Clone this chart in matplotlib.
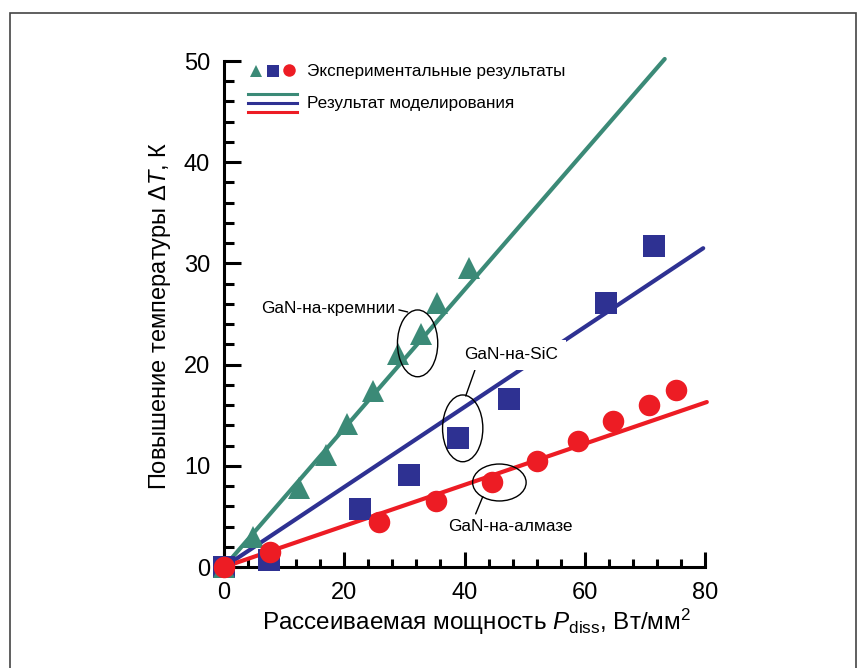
import matplotlib.pyplot as plt
from matplotlib.patches import Ellipse, Rectangle
from matplotlib.ticker import MultipleLocator

plt.rcParams["font.family"] = ["Liberation Sans", "DejaVu Sans"]
plt.rcParams["mathtext.fontset"] = "custom"
plt.rcParams["mathtext.rm"] = "Liberation Sans"
plt.rcParams["mathtext.it"] = "Liberation Sans:italic"

# эксперимент: GaN-на-кремнии (треугольники)
si_x = [0, 4.8, 12.5, 16.9, 20.5, 24.7, 29.0, 32.8, 35.4, 40.7]
si_y = [0, 3.0, 7.8, 11.1, 14.1, 17.4, 21.0, 23.0, 26.1, 29.5]
# GaN-на-SiC (квадраты)
sic_x = [0, 7.5, 22.7, 30.8, 39.0, 47.4, 63.6, 71.6]
sic_y = [0, 0.7, 5.7, 9.1, 12.7, 16.6, 26.1, 31.7]
# GaN-на-алмазе (круги)
dia_x = [0, 7.6, 25.7, 35.2, 44.6, 52.1, 58.9, 64.7, 70.7, 75.1]
dia_y = [0, 1.5, 4.4, 6.5, 8.4, 10.5, 12.5, 14.4, 16.0, 17.5]

# результат моделирования (прямые)
si_model_x, si_model_y = [0, 73.3], [0, 50.2]
sic_model_x, sic_model_y = [0, 79.7], [0, 31.5]
dia_model_x, dia_model_y = [0, 80.3], [0, 16.3]

green = "#3b8a77"
navy = "#2e3192"
red = "#ed1c24"

fig = plt.figure(figsize=(8.6, 6.68), dpi=100)
ax = fig.add_axes([224 / 860, 101 / 668, 481 / 860, 506 / 668])

# рамка вокруг рисунка
fig.patches.append(Rectangle((10 / 860, -0.05), 846 / 860, 1.05 - 13 / 668,
                             transform=fig.transFigure, fill=False,
                             edgecolor="#444444", lw=1.2))

lw = 3.0
ax.plot(si_model_x, si_model_y, color=green, lw=lw, solid_capstyle="round",
        clip_on=False, zorder=2)
ax.plot(sic_model_x, sic_model_y, color=navy, lw=lw, solid_capstyle="round",
        clip_on=False, zorder=2)
ax.plot(dia_model_x, dia_model_y, color=red, lw=lw, solid_capstyle="round",
        clip_on=False, zorder=2)

ax.plot(sic_x, sic_y, "s", color=navy, ms=15.5, mew=0, clip_on=False, zorder=3)
ax.plot(si_x, si_y, "^", color=green, ms=16.5, mew=0, clip_on=False, zorder=4)
ax.plot(dia_x, dia_y, "o", color=red, ms=15.5, mew=0, clip_on=False, zorder=5)

# подписи с эллипсами
ell_kw = dict(fill=False, edgecolor="black", lw=1.0, zorder=6)
ax.add_patch(Ellipse((32.2, 22.1), 6.7, 6.6, **ell_kw))
ax.add_patch(Ellipse((39.7, 13.7), 6.7, 6.6, **ell_kw))
ax.add_patch(Ellipse((45.8, 8.35), 8.9, 3.65, **ell_kw))

fs_ann = 12.4
ax.annotate("GaN-на-кремнии", xy=(30.55, 25.2), xytext=(28.4, 25.5),
            ha="right", va="center", fontsize=fs_ann, zorder=7,
            arrowprops=dict(arrowstyle="-", lw=1.0, relpos=(1, 0.5),
                            shrinkA=1, shrinkB=0))
ax.annotate("GaN-на-SiC", xy=(40.2, 16.9), xytext=(47.8, 20.95),
            ha="center", va="center", fontsize=fs_ann, zorder=7,
            bbox=dict(boxstyle="square,pad=0.45", fc="white", ec="none"),
            arrowprops=dict(arrowstyle="-", lw=1.0, relpos=(0.14, 0),
                            shrinkA=0, shrinkB=0))
ax.annotate("GaN-на-алмазе", xy=(43.05, 6.96), xytext=(47.7, 3.98),
            ha="center", va="center", fontsize=fs_ann, zorder=7,
            arrowprops=dict(arrowstyle="-", lw=1.0, relpos=(0.2, 1),
                            shrinkA=2, shrinkB=0))

# легенда
tr = ax.transAxes
ax.plot([0.0665], [0.981], "^", color=green, ms=9, mew=0, transform=tr)
ax.plot([0.1013], [0.981], "s", color=navy, ms=8.5, mew=0, transform=tr)
ax.plot([0.1359], [0.982], "o", color=red, ms=9, mew=0, transform=tr)
ax.text(0.172, 0.979, "Экспериментальные результаты", transform=tr,
        fontsize=12.3, va="center", ha="left")
for yy, c in zip([0.9348, 0.9176, 0.8998], [green, navy, red]):
    ax.plot([0.0505, 0.1511], [yy, yy], color=c, lw=2.2, transform=tr)
ax.text(0.172, 0.9164, "Результат моделирования", transform=tr,
        fontsize=12.3, va="center", ha="left")

ax.set_xlim(0, 80)
ax.set_ylim(0, 50)
ax.xaxis.set_major_locator(MultipleLocator(20))
ax.xaxis.set_minor_locator(MultipleLocator(4))
ax.yaxis.set_major_locator(MultipleLocator(10))
ax.yaxis.set_minor_locator(MultipleLocator(2))

for s in ["top", "right"]:
    ax.spines[s].set_visible(False)
for s in ["left", "bottom"]:
    ax.spines[s].set_linewidth(2.2)

ax.tick_params(axis="both", which="both", direction="in", width=2.2,
               labelsize=17)
ax.tick_params(axis="y", which="major", length=12, pad=10)
ax.tick_params(axis="y", which="minor", length=7)
ax.tick_params(axis="x", which="major", length=11, pad=11)
ax.tick_params(axis="x", which="minor", length=5.5)

ax.set_xlabel(r"Рассеиваемая мощность $P_{\mathrm{diss}}$, Вт/мм$^2$",
              fontsize=17.5, va="center")
ax.set_ylabel(r"Повышение температуры $\mathit{\Delta T}$, К",
              fontsize=17, va="center")
ax.xaxis.set_label_coords(0.526, -0.109)
ax.yaxis.set_label_coords(-0.133, 0.496)

fig.savefig("out.png", dpi=100)
